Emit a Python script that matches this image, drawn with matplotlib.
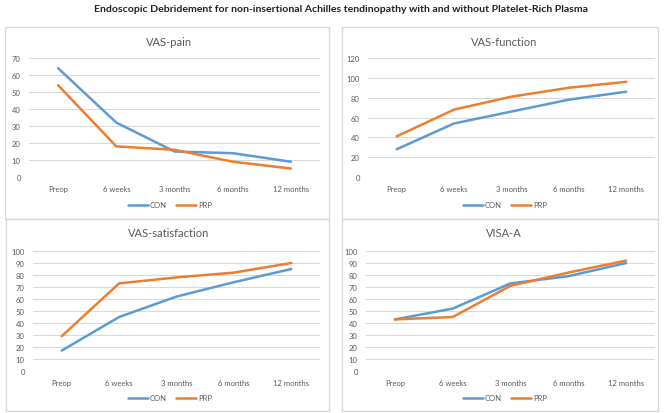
import matplotlib
matplotlib.use("Agg")
import matplotlib.pyplot as plt
from matplotlib.patches import Rectangle

plt.rcParams['font.family'] = ['Lato', 'DejaVu Sans']

categories = ['Preop', '6 weeks', '3 months', '6 months', '12 months']
series_names = ['CON', 'PRP']

pain_con = [64, 32, 15, 14, 9]
pain_prp = [54, 18, 16, 9, 5]
function_con = [28, 54, 66, 78, 86]
function_prp = [41, 68, 81, 90, 96]
satisfaction_con = [17, 45, 62, 74, 85]
satisfaction_prp = [29, 73, 78, 82, 90]
visa_con = [43, 52, 73, 79, 90]
visa_prp = [43, 45, 71, 82, 92]

panel_titles = ['VAS-pain', 'VAS-function', 'VAS-satisfaction', 'VISA-A']
panel_ymax = [70, 120, 100, 100]
panel_ystep = [10, 20, 10, 10]

BLUE = '#5B9BD5'
ORANGE = '#ED7D31'
GRID = '#d9d9d9'
TEXT = '#595959'

W, H = 666, 414
fig = plt.figure(figsize=(W / 100, H / 100), dpi=100)


# convert pixel box (left, top, right, bottom) to figure fractions
def box(l, t, r, b):
    return [l / W, 1 - b / H, (r - l) / W, (b - t) / H]


# panel frames
for (l, t, r, b) in [(5, 28, 329, 220), (342, 28, 658, 220),
                     (6, 220, 329, 412), (342, 220, 658, 412)]:
    fig.patches.append(Rectangle((l / W, 1 - b / H), (r - l) / W, (b - t) / H,
                                 transform=fig.transFigure, fill=False,
                                 edgecolor=GRID, linewidth=1.0))

fig.text(341 / W, 1 - 9 / H,
         'Endoscopic Debridement for non-insertional Achilles tendinopathy with and without Platelet-Rich Plasma',
         ha='center', va='center', fontsize=7.55, fontweight='bold', color='#222222')

axes_boxes = [box(29, 59, 320, 178), box(368, 59, 655, 178),
              box(33, 252, 320, 372), box(366, 252, 655, 372)]
data = [(pain_con, pain_prp), (function_con, function_prp),
        (satisfaction_con, satisfaction_prp), (visa_con, visa_prp)]
title_y = [42, 42, 234, 234]
legend_y = [206, 206, 399, 399]
legend_x = [170, 505, 170, 505]

for i in range(4):
    ax = fig.add_axes(axes_boxes[i])
    x = list(range(len(categories)))
    con, prp = data[i]
    ax.plot(x, con, color=BLUE, lw=1.8, label=series_names[0], solid_capstyle='round')
    ax.plot(x, prp, color=ORANGE, lw=1.8, label=series_names[1], solid_capstyle='round')
    ax.set_xlim(-0.5, len(categories) - 0.5)
    ax.set_ylim(0, panel_ymax[i])
    ax.set_yticks(range(0, panel_ymax[i] + 1, panel_ystep[i]))
    ax.set_xticks(x)
    ax.set_xticklabels(categories)
    ax.tick_params(length=0, labelsize=5.5, labelcolor=TEXT, pad=6)
    ax.grid(axis='y', color=GRID, lw=0.75)
    ax.set_axisbelow(True)
    for s in ax.spines.values():
        s.set_visible(False)
    fig.text(169 / W if i % 2 == 0 else 504 / W, 1 - title_y[i] / H, panel_titles[i],
             ha='center', va='center', fontsize=8.0, color=TEXT)
    ax.legend(loc='center', bbox_to_anchor=(legend_x[i] / W, 1 - legend_y[i] / H),
              bbox_transform=fig.transFigure, ncol=2, frameon=False,
              fontsize=5.5, labelcolor=TEXT, handlelength=2.6, handletextpad=0.3,
              columnspacing=1.2)

fig.savefig('out.png', dpi=100)
